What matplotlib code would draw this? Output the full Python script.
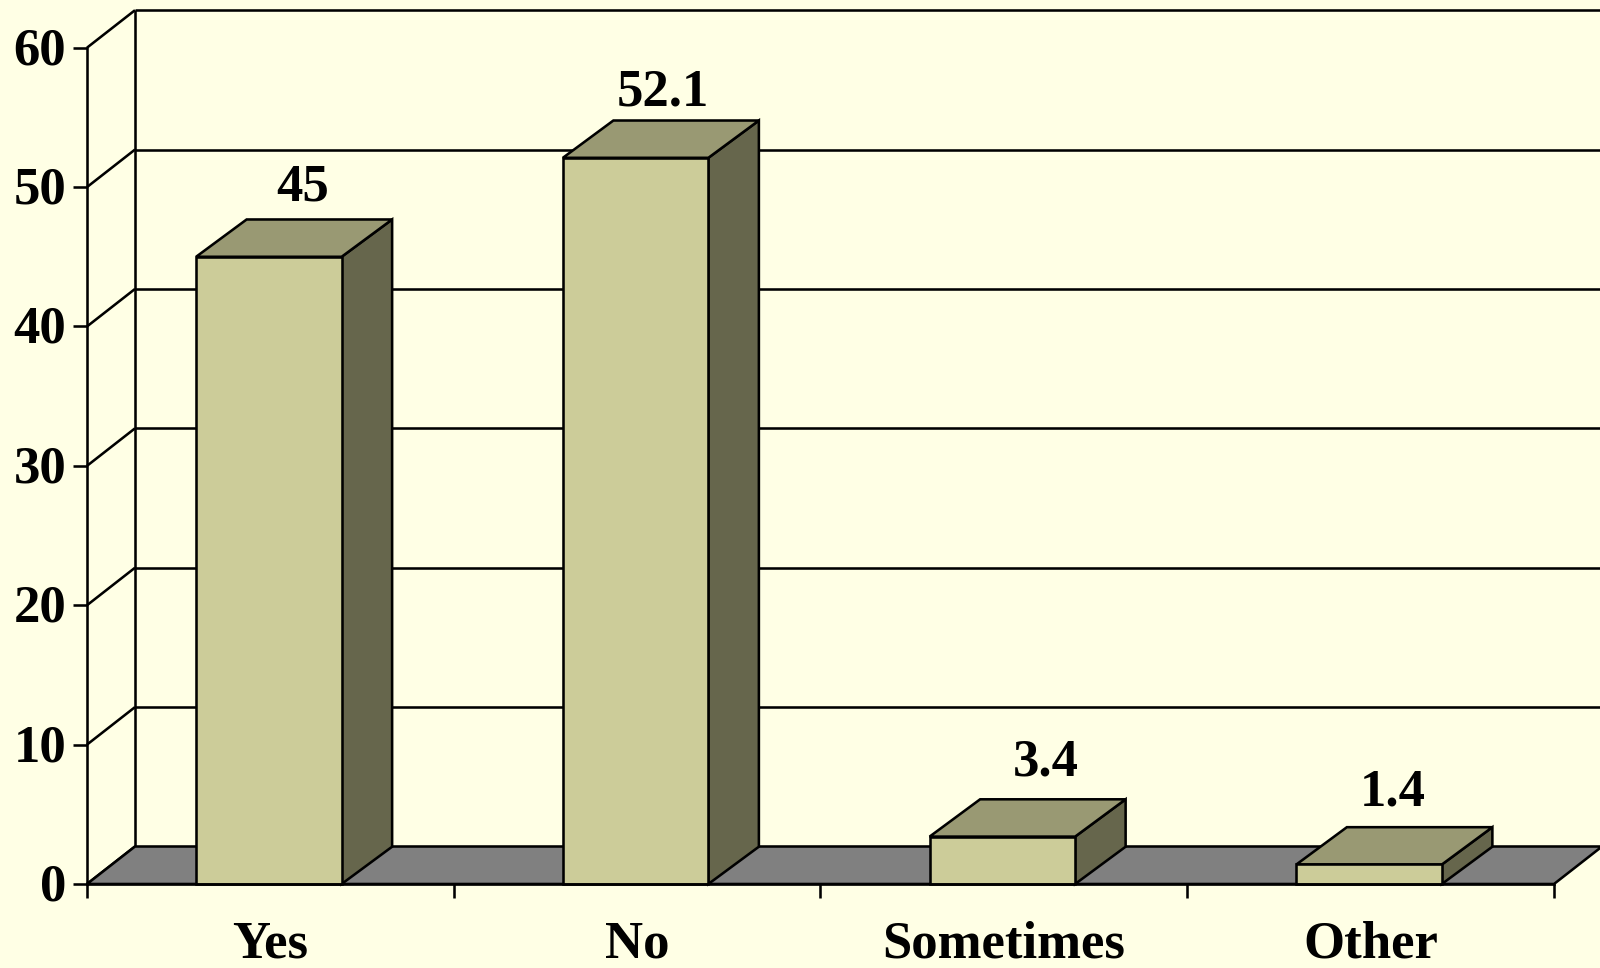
import matplotlib
matplotlib.use("Agg")
import matplotlib.pyplot as plt
from matplotlib.patches import Polygon
from matplotlib.transforms import ScaledTranslation

categories = ["Yes", "No", "Sometimes", "Other"]
values = [45, 52.1, 3.4, 1.4]
value_labels = ["45", "52.1", "3.4", "1.4"]
y_ticks = [0, 10, 20, 30, 40, 50, 60]

BG = "#FFFFE5"; FRONT = "#CCCC99"; TOP = "#999973"; SIDE = "#66664C"
FLOOR = "#808080"; INK = "#000000"
W, H = 1600, 968
X0, XEND, Y0, Y60 = 87.0, 1554.0, 884.0, 47.7
ux = (XEND - X0) / len(categories)
uy = (Y0 - Y60) / 60
DX, DY = 48 / ux, 37.5 / uy
BAR_DX, BAR_DY = 50.5 / ux, 37.3 / uy
BAR_W = 145.5 / ux
BAR_SHIFT = -1.5 / ux
LW = 1.85
FS = 38

# label offsets in pixels from the bar centre / back top edge
label_dx = [34, 27, 43, 24]
label_gap = [19, 15, 24, 22]

plt.rcParams["font.family"] = ["Liberation Serif", "DejaVu Serif"]
plt.rcParams["font.weight"] = "bold"
fig = plt.figure(figsize=(W / 100, H / 100), dpi=100, facecolor=BG)
ax = fig.add_axes([0, 0, 1, 1], facecolor=BG)
ax.set_xlim(-X0 / ux, (W - X0) / ux)
ax.set_ylim((Y0 - H) / uy, Y0 / uy)

n = len(categories)
line = dict(color=INK, lw=LW, solid_capstyle="butt", zorder=1)
for t in y_ticks:
    ax.plot([0, DX], [t, t + DY], **line)
    ax.plot([DX, ax.get_xlim()[1]], [t + DY, t + DY], **line)
ax.plot([DX, DX], [DY, 60 + DY], **line)
ax.add_patch(Polygon([(0, 0), (n, 0), (n + DX, DY), (DX, DY)], closed=True,
                     fc=FLOOR, ec=INK, lw=LW, joinstyle="miter", zorder=2, clip_on=False))

for i, (v, lab) in enumerate(zip(values, value_labels)):
    c = i + 0.5 + BAR_SHIFT
    l, r = c - BAR_W / 2, c + BAR_W / 2
    style = dict(closed=True, ec=INK, lw=LW, joinstyle="miter", zorder=3)
    ax.add_patch(Polygon([(r, 0), (r + BAR_DX, BAR_DY), (r + BAR_DX, v + BAR_DY), (r, v)], fc=SIDE, **style))
    ax.add_patch(Polygon([(l, v), (r, v), (r + BAR_DX, v + BAR_DY), (l + BAR_DX, v + BAR_DY)], fc=TOP, **style))
    ax.add_patch(Polygon([(l, 0), (r, 0), (r, v), (l, v)], fc=FRONT, **style))
    ax.text(c + label_dx[i] / ux, v + BAR_DY + label_gap[i] / uy, lab, ha="center", va="baseline",
            fontsize=FS, fontweight="bold", color=INK, zorder=5)

for s in ("top", "right"):
    ax.spines[s].set_visible(False)
for s in ("left", "bottom"):
    ax.spines[s].set_linewidth(LW)
    ax.spines[s].set_zorder(4)
    ax.spines[s].set_position(("data", 0))
ax.spines["left"].set_bounds(0, 60)
ax.spines["bottom"].set_bounds(0, n)

ax.set_yticks(y_ticks)
ax.set_yticklabels([str(t) for t in y_ticks])
ax.set_xticks(range(n + 1))
ax.set_xticklabels([])
ax.set_xticks([i + 0.5 for i in range(n)], minor=True)
ax.set_xticklabels(categories, minor=True)
ax.tick_params(axis="y", direction="out", length=10, width=LW, pad=5, labelsize=FS, color=INK)
ax.tick_params(axis="x", which="major", direction="out", length=10, width=LW, color=INK)
ax.tick_params(axis="x", which="minor", length=0, pad=26, labelsize=FS)

up = ScaledTranslation(0, 2 / 100, fig.dpi_scale_trans)
for label in ax.get_yticklabels():
    label.set_transform(label.get_transform() + up)

fig.savefig("out.png", dpi=100, facecolor=BG)
